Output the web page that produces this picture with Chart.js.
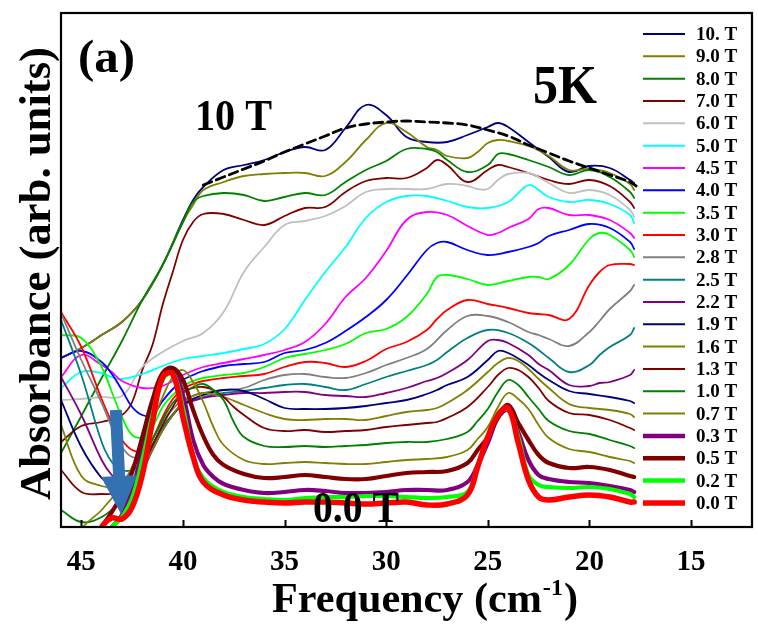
<!DOCTYPE html>
<html><head><meta charset="utf-8">
<script src="https://cdn.jsdelivr.net/npm/chart.js@4/dist/chart.umd.min.js"></script>
<style>html,body{margin:0;padding:0;background:#fff;}canvas{display:block;}</style>
</head><body>
<canvas id="c" width="758" height="626"></canvas>
<script>
// Frequency grid (cm^-1)
const freq = [46,45,44,43.5,43,42.5,42,41.5,41,
  40.5,40,39.5,39,38.5,38,37.5,37,36,
  35,34,33,32,31,30,29,28,27.5,27,
  26,25.5,25,24.5,24,23.5,23,22.5,22,21,20,19.5,19,18,17.8];

// Absorbance (arb. units), one array per field
const t100 = [169,179,192,null,205,null,227,null,262,
  null,307,327,340,null,357,null,362,367,
  375,380,377,399,422,412,390,385,null,385,
  392,null,400,404,400,null,385,null,370,355,361,null,359,347,344];
const t90 = [169,179,192,null,205,null,227,null,262,
  null,305,322,337,null,345,null,351,353,
  354,354,351,365,387,404,395,380,377,371,
  369,375,384,387,386,null,381,null,371,357,358,null,354,343,337];
const t80 = [74,111,149,null,186,null,227,null,262,
  null,305,325,331,null,334,null,332,326,
  330,334,332,345,357,366,378,378,375,367,
  355,null,362,373,373,null,367,null,360,352,357,null,350,335,329];
const t70 = [85,101,105,null,112,125,157,182,222,
  255,287,305,313,null,313,null,307,302,
  311,319,320,335,346,349,349,359,367,362,
  345,null,357,362,360,null,354,null,347,343,347,null,341,325,319];
const t60 = [127,128,130,null,131,null,160,null,175,
  null,186,null,194,null,215,null,255,280,
  302,306,311,321,335,338,338,338,null,343,
  341,338,338,347,353,null,354,null,344,334,337,null,332,317,310];
const t50 = [139,155,154,150,148,null,153,null,161,
  null,168,null,171,null,174,null,178,183,
  198,227,255,280,309,325,331,331,null,326,
  320,null,319,null,325,null,342,337,330,325,327,null,323,312,304];
const t45 = [150,172,162,155,146,null,139,null,141,
  null,152,null,160,null,164,null,168,172,
  177,185,203,230,249,276,307,315,null,312,
  301,null,292,294,299,null,308,318,319,312,312,null,307,294,289];
const t40 = [169,176,165,153,137,120,112,112,126,
  138,147,152,156,null,161,null,163,165,
  174,177,184,196,210,227,251,277,284,285,
  277,null,272,null,275,null,280,284,291,297,303,null,299,285,278];
const t35 = [192,189,160,135,110,92,90,100,120,
  132,141,146,149,null,152,null,154,160,
  169,173,177,183,194,198,210,233,250,252,
  248,null,242,null,246,null,250,250,248,262,288,294,292,277,270];
const t30 = [215,180,128,105,87,77,76,88,110,
  128,138,143,146,null,149,null,151,153,
  160,165,164,160,166,178,185,197,208,217,
  227,null,223,null,219,null,214,213,212,208,242,255,262,263,262];
const t28 = [214,167,124,100,80,70,72,88,105,
  118,127,null,134,null,137,null,139,147,
  152,153,150,149,154,162,169,178,null,197,
  211,null,211,null,205,null,195,192,188,181,195,206,218,236,242];
const t25 = [207,152,85,65,57,57,65,82,100,
  113,122,null,130,null,134,null,136,139,
  142,143,140,137,143,150,156,162,167,175,
  189,null,197,null,194,null,184,177,169,155,162,172,180,192,199];
const t22 = [150,112,67,52,45,47,57,77,97,
  112,122,null,129,null,132,null,134,134,
  135,135,132,131,130,134,139,146,149,154,
  167,null,186,187,184,null,172,163,157,142,141,144,145,152,157];
const t19 = [127,80,49,43,40,45,60,78,97,
  112,123,null,132,null,137,null,136,128,
  119,118,118,119,121,124,127,133,137,142,
  150,null,167,176,174,null,162,154,147,136,133,null,130,126,124];
const t16 = [102,51,41,null,39,45,59,77,97,
  112,125,131,134,null,130,null,122,114,
  108,107,108,108,107,111,115,117,119,124,
  137,null,155,164,169,166,158,148,139,123,119,null,117,113,110];
const t13 = [57,35,33,null,35,45,62,82,102,
  120,135,139,140,137,130,120,112,99,
  96,97,95,96,97,100,102,104,105,109,
  120,null,140,152,159,157,150,139,126,114,112,null,107,99,97];
const t10 = [17,5,10,null,27,42,62,87,107,
  124,134,140,143,137,127,105,90,81,
  80,81,80,81,82,84,85,85,null,88,
  95,106,118,135,147,142,130,118,106,96,93,null,87,81,79];
const t07 = [-40,-2,17,null,42,60,80,105,130,
  150,157,145,125,100,82,null,67,63,
  64,65,64,63,63,65,67,68,null,70,
  77,88,100,120,134,128,118,102,89,78,75,null,70,66,64];
const t03 = [-70,-40,-12,0,12,37,77,117,149,
  157,132,87,62,50,43,null,37,34,
  35,37,36,34,34,35,37,37,null,37,
  45,62,84,109,117,95,67,52,48,45,44,null,41,37,35];
const t05 = [-60,-30,0,15,32,55,90,127,154,
  159,147,117,91,72,62,null,53,49,
  50,52,50,48,48,51,54,55,null,56,
  64,77,90,110,122,104,87,72,64,59,60,null,57,51,50];
const t02 = [-75,-40,-10,0,10,29,67,112,147,
  154,119,72,49,null,35,null,30,28,
  27,29,30,30,31,31,30,29,null,30,
  35,62,90,114,117,90,52,42,40,39,40,null,38,33,30];
const t00 = [-80,-40,0,9,8,20,52,105,150,
  153,110,70,45,null,32,null,27,25,
  24,25,25,24,23,24,25,22,null,23,
  32,60,90,112,119,84,47,30,27,30,32,null,30,25,25];

// Dashed envelope of the 10 T spectrum
const dashFreq = [39,38,37,36,35,34,33,32,31,30,29,28,27,26,25,24,23,22,21,20,19,18,17.7];
const dashVals = [342,350,358,366,375,383,391,399,403,405,406,405,404,402,397,391,382,374,366,359,352,345,341];

// Arrow (frequency, absorbance): tail then tip
const arrowFreq = [43.3,43.05];
const arrowVals = [117,13];

const xTicks = [45,40,35,30,25,20,15];
const labels = ['10. T','9.0 T','8.0 T','7.0 T','6.0 T','5.0 T','4.5 T','4.0 T','3.5 T','3.0 T','2.8 T',
  '2.5 T','2.2 T','1.9 T','1.6 T','1.3 T','1.0 T','0.7 T','0.3 T','0.5 T','0.2 T','0.0 T'];
const series = [t100,t90,t80,t70,t60,t50,t45,t40,t35,t30,t28,t25,t22,t19,t16,t13,t10,t07,t03,t05,t02,t00];
const colors = ['#000080','#808000','#008000','#800000','#c0c0c0','#00ffff','#ff00ff','#0000ff','#00ff00','#ff0000','#808080',
  '#008080','#800080','#000080','#808000','#800000','#008000','#808000','#800080','#800000','#00ff00','#ff0000'];
const widths = [1.8,1.8,1.8,1.8,1.8,1.8,1.8,1.8,1.8,1.8,1.8,1.8,1.8,1.8,1.8,1.8,1.8,1.8,4.2,4.2,4.2,5.5];
const legWidths = [2,2,2,2,2,2,2,2,2,2,2,2,2,2,2,2,2,2,4.5,4.5,4.5,5.5];

const datasets = series.map((s, i) => ({
  label: labels[i],
  data: freq.map((f, j) => ({x: f, y: s[j]})).filter(p => p.y !== null),
  borderColor: colors[i],
  borderWidth: widths[i],
  order: series.length - i,
  fill: false, spanGaps: true
}));
datasets.push({
  label: 'envelope',
  data: dashFreq.map((f, j) => ({x: f, y: dashVals[j]})),
  borderColor: '#000', borderWidth: 2.8, borderDash: [9, 5],
  order: -1, fill: false
});

const SERIF = "'Liberation Serif', 'Times New Roman', serif";

function fitText(ctx, text, size, left, right, baseline) {
  ctx.save();
  ctx.font = 'bold ' + size + 'px ' + SERIF;
  ctx.textAlign = 'left'; ctx.textBaseline = 'alphabetic';
  const w = ctx.measureText(text).width;
  ctx.translate(left, baseline);
  ctx.scale((right - left) / w, 1);
  ctx.fillStyle = '#000';
  ctx.fillText(text, 0, 0);
  ctx.restore();
}

const annot = {
  id: 'annot',
  afterDraw(chart) {
    const {ctx, chartArea: a, scales} = chart;
    const x = scales.x, y = scales.y;
    ctx.save();
    // arrow
    const x0 = x.getPixelForValue(arrowFreq[0]), y0 = y.getPixelForValue(arrowVals[0]);
    const x1 = x.getPixelForValue(arrowFreq[1]), y1 = y.getPixelForValue(arrowVals[1]);
    const L = Math.hypot(x1 - x0, y1 - y0);
    ctx.save();
    ctx.translate(x0, y0);
    ctx.rotate(Math.atan2(y1 - y0, x1 - x0));
    const hl = 38, hw = 18, sw = 6;
    ctx.beginPath();
    ctx.moveTo(0, -sw); ctx.lineTo(L - hl, -sw); ctx.lineTo(L - hl, -hw);
    ctx.lineTo(L, 0); ctx.lineTo(L - hl, hw); ctx.lineTo(L - hl, sw); ctx.lineTo(0, sw);
    ctx.closePath();
    ctx.fillStyle = '#3271b2';
    ctx.fill();
    ctx.restore();

    // frame
    ctx.strokeStyle = '#000'; ctx.lineWidth = 2.2;
    ctx.strokeRect(a.left, a.top, a.right - a.left, a.bottom - a.top);
    // inner tick marks
    ctx.lineWidth = 2;
    xTicks.forEach(v => {
      const px = Math.round(x.getPixelForValue(v)) + 0.5;
      ctx.beginPath(); ctx.moveTo(px, a.bottom); ctx.lineTo(px, a.bottom - 7); ctx.stroke();
    });

    // legend
    const ly0 = 34, ldy = 22.33;
    labels.forEach((lab, i) => {
      const yy = ly0 + i * ldy;
      ctx.beginPath();
      ctx.strokeStyle = colors[i]; ctx.lineWidth = legWidths[i];
      ctx.moveTo(643, yy); ctx.lineTo(685, yy); ctx.stroke();
      ctx.fillStyle = '#000';
      ctx.font = 'bold 19px ' + SERIF;
      ctx.textAlign = 'left'; ctx.textBaseline = 'middle';
      ctx.fillText(lab, 696, yy + 1);
    });

    // annotations
    fitText(ctx, '(a)', 46, 78, 135, 72);
    fitText(ctx, '10 T', 44, 195, 272, 130);
    fitText(ctx, '5K', 54, 533, 597, 103);
    fitText(ctx, '0.0 T', 44, 313, 399, 522);

    // x title with superscript
    ctx.save();
    const fMain = 'bold 42px ' + SERIF, fSup = 'bold 24px ' + SERIF;
    ctx.font = fMain; const w1 = ctx.measureText('Frequency (cm').width; const w3 = ctx.measureText(')').width;
    ctx.font = fSup; const w2 = ctx.measureText('-1').width + 2;
    const sc = (578 - 272) / (w1 + w2 + w3);
    ctx.translate(272, 612); ctx.scale(sc, 1);
    ctx.fillStyle = '#000'; ctx.textAlign = 'left'; ctx.textBaseline = 'alphabetic';
    ctx.font = fMain; ctx.fillText('Frequency (cm', 0, 0);
    ctx.font = fSup; ctx.fillText('-1', w1 + 1, -17);
    ctx.font = fMain; ctx.fillText(')', w1 + w2, 0);
    ctx.restore();

    // y title
    ctx.save();
    ctx.font = 'bold 44px ' + SERIF;
    const yt = 'Absorbance (arb. units)';
    const wy = ctx.measureText(yt).width;
    ctx.translate(50, 500); ctx.rotate(-Math.PI / 2);
    ctx.scale(453 / wy, 1);
    ctx.fillStyle = '#000'; ctx.textAlign = 'left'; ctx.textBaseline = 'alphabetic';
    ctx.fillText(yt, 0, 0);
    ctx.restore();

    ctx.restore();
  }
};

new Chart(document.getElementById('c'), {
  type: 'line',
  data: {datasets},
  options: {
    responsive: false, animation: false, devicePixelRatio: 1,
    layout: {padding: {left: 61, top: 13, right: 6, bottom: 0}},
    plugins: {legend: {display: false}, tooltip: {enabled: false}},
    elements: {point: {radius: 0}, line: {tension: 0.4, capBezierPoints: false, borderCapStyle: 'round', borderJoinStyle: 'round'}},
    scales: {
      x: {type: 'linear', min: 12, max: 46, reverse: true,
        grid: {display: false, drawTicks: false}, border: {display: false},
        ticks: {color: '#000', font: {family: SERIF, size: 29, weight: 'bold'}, padding: 18, maxRotation: 0, autoSkip: false},
        afterBuildTicks: s => { s.ticks = xTicks.map(v => ({value: v})); },
        afterFit: s => { s.height = 99; }
      },
      y: {display: false, min: 0, max: 514}
    }
  },
  plugins: [annot]
});
</script>
</body></html>
